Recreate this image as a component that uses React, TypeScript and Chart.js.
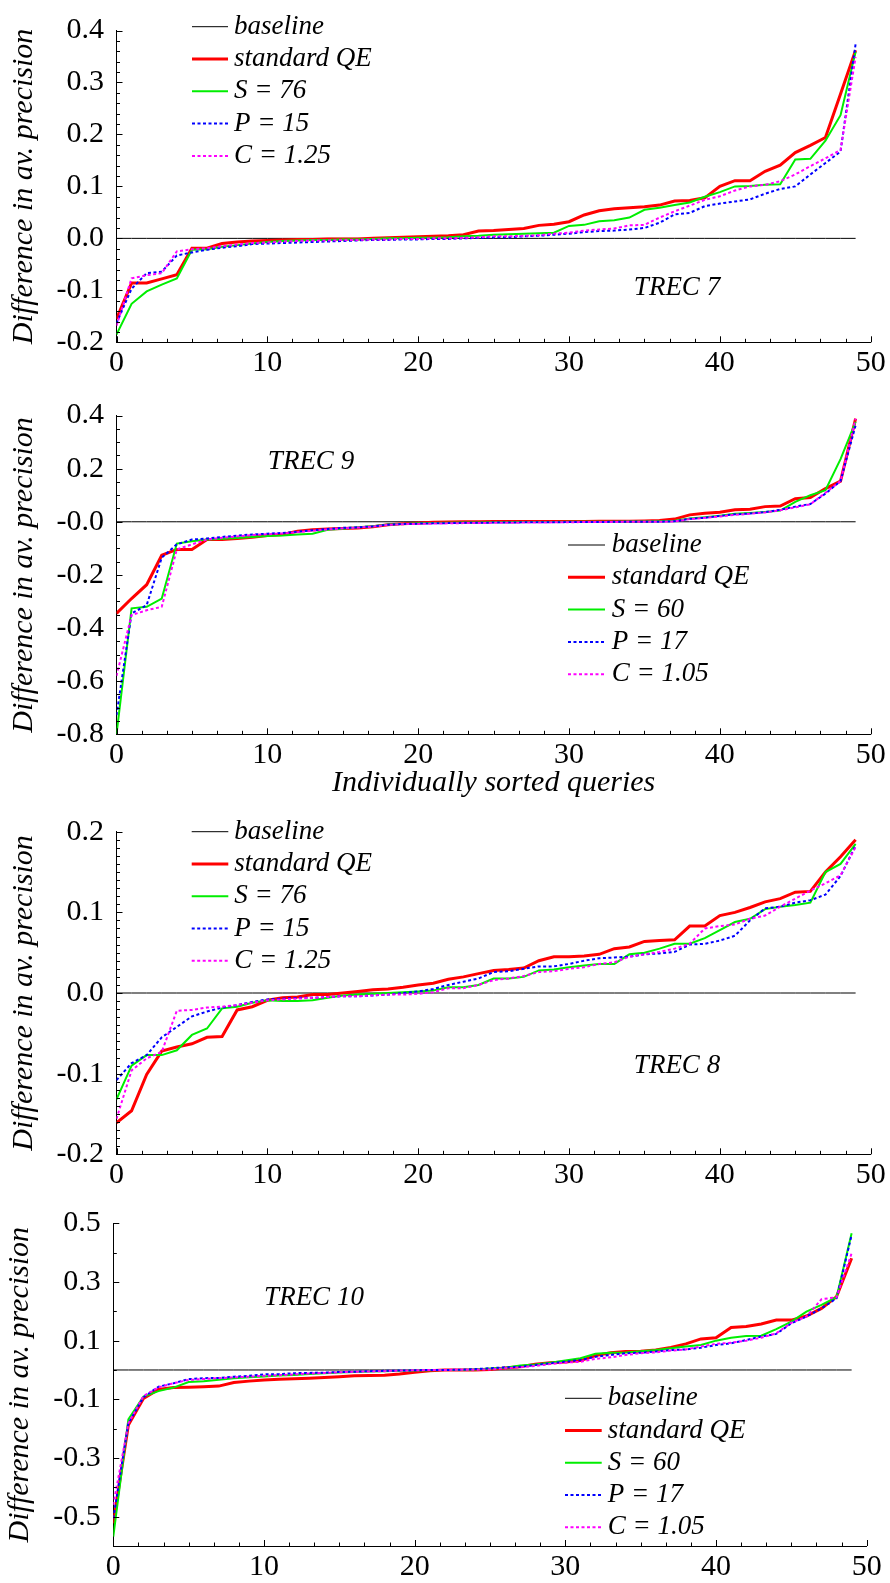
import React, { useEffect, useRef } from "react";
import { Chart, registerables } from "chart.js";

Chart.register(...registerables);

const FAMILY = "'Liberation Serif', 'Times New Roman', Times, serif";

// ---------- data ----------
const queryRanks = Array.from({ length: 50 }, (_, i) => i);
const baselineValues = new Array(50).fill(0);

const xTicks = [0, 10, 20, 30, 40, 50];

// TREC 7
const trec7Standard = [-0.155, -0.086, -0.086, -0.078, -0.07, -0.019, -0.019, -0.01, -0.007, -0.005, -0.004, -0.003, -0.002, -0.002, -0.001, -0.001, -0.001, 0.0, 0.001, 0.002, 0.003, 0.004, 0.005, 0.007, 0.014, 0.015, 0.017, 0.019, 0.025, 0.027, 0.032, 0.045, 0.053, 0.057, 0.059, 0.061, 0.064, 0.072, 0.073, 0.078, 0.1, 0.111, 0.111, 0.129, 0.141, 0.165, 0.179, 0.194, 0.278, 0.362];
const trec7S = [-0.185, -0.126, -0.102, -0.089, -0.077, -0.022, -0.021, -0.016, -0.013, -0.01, -0.007, -0.005, -0.004, -0.003, -0.003, -0.002, -0.002, -0.001, 0.0, 0.0, 0.001, 0.001, 0.002, 0.004, 0.005, 0.007, 0.008, 0.009, 0.01, 0.011, 0.024, 0.026, 0.033, 0.035, 0.04, 0.055, 0.059, 0.064, 0.069, 0.08, 0.089, 0.1, 0.101, 0.103, 0.104, 0.152, 0.153, 0.188, 0.237, 0.359];
const trec7P = [-0.163, -0.097, -0.067, -0.064, -0.033, -0.027, -0.022, -0.018, -0.015, -0.011, -0.01, -0.009, -0.008, -0.007, -0.006, -0.005, -0.004, -0.003, -0.003, -0.002, -0.002, -0.001, -0.001, 0.0, 0.001, 0.002, 0.002, 0.004, 0.005, 0.007, 0.009, 0.012, 0.014, 0.015, 0.017, 0.02, 0.03, 0.046, 0.049, 0.062, 0.067, 0.071, 0.075, 0.086, 0.095, 0.1, 0.123, 0.145, 0.167, 0.374];
const trec7C = [-0.168, -0.077, -0.071, -0.067, -0.025, -0.021, -0.019, -0.015, -0.012, -0.009, -0.008, -0.006, -0.005, -0.004, -0.004, -0.003, -0.003, -0.002, -0.002, -0.001, -0.001, 0.0, 0.0, 0.001, 0.002, 0.004, 0.004, 0.005, 0.006, 0.009, 0.011, 0.015, 0.017, 0.019, 0.025, 0.026, 0.04, 0.052, 0.063, 0.074, 0.081, 0.092, 0.1, 0.103, 0.11, 0.123, 0.139, 0.154, 0.17, 0.349];

// TREC 9
const trec9Standard = [-0.345, -0.289, -0.237, -0.126, -0.104, -0.104, -0.067, -0.067, -0.063, -0.058, -0.052, -0.048, -0.036, -0.03, -0.027, -0.025, -0.023, -0.019, -0.011, -0.007, -0.005, -0.002, -0.001, 0.0, 0.0, 0.001, 0.001, 0.001, 0.001, 0.001, 0.001, 0.001, 0.002, 0.002, 0.002, 0.003, 0.005, 0.01, 0.026, 0.032, 0.036, 0.045, 0.047, 0.057, 0.059, 0.087, 0.091, 0.125, 0.153, 0.388];
const trec9S = [-0.8, -0.326, -0.32, -0.289, -0.082, -0.073, -0.067, -0.064, -0.061, -0.057, -0.054, -0.052, -0.048, -0.045, -0.03, -0.026, -0.021, -0.017, -0.01, -0.008, -0.006, -0.005, -0.004, -0.003, -0.003, -0.002, -0.002, -0.001, -0.001, -0.001, 0.0, 0.0, 0.0, 0.0, 0.001, 0.001, 0.002, 0.004, 0.012, 0.017, 0.023, 0.03, 0.033, 0.037, 0.042, 0.075, 0.1, 0.119, 0.236, 0.376];
const trec9P = [-0.728, -0.345, -0.314, -0.135, -0.085, -0.067, -0.063, -0.057, -0.052, -0.048, -0.045, -0.042, -0.037, -0.032, -0.027, -0.023, -0.021, -0.017, -0.011, -0.008, -0.007, -0.006, -0.005, -0.004, -0.004, -0.003, -0.003, -0.002, -0.002, -0.002, -0.001, -0.001, -0.001, 0.0, 0.0, 0.0, 0.0, 0.002, 0.011, 0.015, 0.022, 0.028, 0.031, 0.036, 0.045, 0.057, 0.067, 0.106, 0.153, 0.363];
const trec9C = [-0.58, -0.351, -0.333, -0.32, -0.104, -0.085, -0.067, -0.06, -0.055, -0.05, -0.047, -0.044, -0.039, -0.034, -0.029, -0.025, -0.022, -0.018, -0.012, -0.009, -0.008, -0.007, -0.006, -0.005, -0.005, -0.004, -0.004, -0.003, -0.003, -0.002, -0.002, -0.001, -0.001, -0.001, 0.0, 0.0, 0.0, 0.001, 0.01, 0.015, 0.02, 0.026, 0.03, 0.035, 0.043, 0.054, 0.066, 0.109, 0.153, 0.388];

// TREC 8
const trec8Standard = [-0.161, -0.146, -0.101, -0.072, -0.067, -0.063, -0.055, -0.054, -0.021, -0.017, -0.009, -0.006, -0.005, -0.002, -0.002, 0.0, 0.002, 0.004, 0.005, 0.007, 0.01, 0.012, 0.017, 0.02, 0.024, 0.028, 0.029, 0.031, 0.04, 0.045, 0.045, 0.046, 0.048, 0.055, 0.057, 0.064, 0.065, 0.066, 0.083, 0.083, 0.096, 0.1, 0.106, 0.113, 0.117, 0.125, 0.126, 0.15, 0.169, 0.19];
const trec8S = [-0.132, -0.09, -0.077, -0.077, -0.071, -0.052, -0.044, -0.019, -0.017, -0.012, -0.009, -0.01, -0.01, -0.009, -0.006, -0.003, -0.002, -0.001, 0.0, 0.001, 0.002, 0.003, 0.007, 0.007, 0.01, 0.018, 0.018, 0.02, 0.028, 0.029, 0.032, 0.034, 0.036, 0.036, 0.048, 0.05, 0.055, 0.061, 0.061, 0.068, 0.078, 0.088, 0.092, 0.104, 0.107, 0.109, 0.112, 0.15, 0.16, 0.185];
const trec8P = [-0.108, -0.087, -0.077, -0.055, -0.042, -0.029, -0.023, -0.018, -0.015, -0.011, -0.008, -0.007, -0.006, -0.006, -0.005, -0.004, -0.004, -0.003, -0.002, 0.0, 0.002, 0.005, 0.01, 0.014, 0.018, 0.026, 0.027, 0.03, 0.033, 0.033, 0.036, 0.04, 0.043, 0.044, 0.045, 0.048, 0.049, 0.051, 0.06, 0.061, 0.065, 0.071, 0.09, 0.105, 0.107, 0.112, 0.115, 0.122, 0.145, 0.183];
const trec8C = [-0.156, -0.096, -0.081, -0.073, -0.022, -0.021, -0.018, -0.017, -0.015, -0.012, -0.009, -0.008, -0.007, -0.006, -0.005, -0.004, -0.004, -0.003, -0.002, -0.002, -0.001, 0.001, 0.006, 0.006, 0.01, 0.016, 0.018, 0.021, 0.026, 0.027, 0.03, 0.032, 0.036, 0.038, 0.045, 0.048, 0.051, 0.055, 0.061, 0.08, 0.083, 0.085, 0.092, 0.096, 0.107, 0.117, 0.127, 0.136, 0.146, 0.181];

// TREC 10
const trec10Standard = [-0.523, -0.188, -0.097, -0.066, -0.06, -0.059, -0.057, -0.055, -0.043, -0.038, -0.034, -0.032, -0.03, -0.028, -0.026, -0.023, -0.02, -0.019, -0.018, -0.014, -0.008, -0.003, 0.0, 0.0, 0.0, 0.002, 0.007, 0.011, 0.02, 0.025, 0.027, 0.032, 0.049, 0.059, 0.063, 0.064, 0.068, 0.077, 0.089, 0.106, 0.11, 0.145, 0.148, 0.157, 0.17, 0.17, 0.184, 0.21, 0.25, 0.381];
const trec10S = [-0.568, -0.168, -0.091, -0.072, -0.06, -0.041, -0.038, -0.033, -0.028, -0.025, -0.022, -0.019, -0.017, -0.014, -0.011, -0.009, -0.007, -0.005, -0.004, -0.003, -0.002, -0.001, 0.0, 0.0, 0.002, 0.005, 0.008, 0.015, 0.019, 0.025, 0.032, 0.04, 0.055, 0.059, 0.06, 0.064, 0.068, 0.074, 0.08, 0.085, 0.1, 0.11, 0.116, 0.117, 0.139, 0.165, 0.199, 0.222, 0.248, 0.466];
const trec10P = [-0.506, -0.182, -0.093, -0.057, -0.045, -0.031, -0.028, -0.027, -0.023, -0.02, -0.015, -0.014, -0.011, -0.01, -0.009, -0.007, -0.006, -0.004, -0.003, -0.002, -0.001, 0.0, 0.0, 0.001, 0.003, 0.006, 0.009, 0.011, 0.017, 0.023, 0.028, 0.034, 0.045, 0.051, 0.057, 0.059, 0.063, 0.068, 0.07, 0.076, 0.085, 0.091, 0.102, 0.114, 0.123, 0.159, 0.182, 0.21, 0.244, 0.46];
const trec10C = [-0.46, -0.182, -0.089, -0.059, -0.045, -0.034, -0.031, -0.028, -0.025, -0.023, -0.02, -0.018, -0.015, -0.012, -0.01, -0.008, -0.006, -0.005, -0.004, -0.002, -0.001, 0.0, 0.0, 0.001, 0.001, 0.002, 0.006, 0.009, 0.014, 0.02, 0.025, 0.028, 0.038, 0.043, 0.051, 0.057, 0.06, 0.066, 0.07, 0.08, 0.089, 0.093, 0.1, 0.11, 0.125, 0.161, 0.182, 0.241, 0.248, 0.398];

// legend labels
const labelsA = ["baseline", "standard QE", "S = 76", "P = 15", "C = 1.25"];
const labelsB = ["baseline", "standard QE", "S = 60", "P = 17", "C = 1.05"];

// y tick values and labels (ascending)
const yTicks7 = [-0.2, -0.1, 0, 0.1, 0.2, 0.3, 0.4];
const yLabels7 = ["-0.2", "-0.1", "0.0", "0.1", "0.2", "0.3", "0.4"];
const yTicks9 = [-0.8, -0.6, -0.4, -0.2, 0, 0.2, 0.4];
const yLabels9 = ["-0.8", "-0.6", "-0.4", "-0.2", "-0.0", "0.2", "0.4"];
const yTicks8 = [-0.2, -0.1, 0, 0.1, 0.2];
const yLabels8 = ["-0.2", "-0.1", "0.0", "0.1", "0.2"];
const yTicks10 = [-0.5, -0.3, -0.1, 0.1, 0.3, 0.5];
const yLabels10 = ["-0.5", "-0.3", "-0.1", "0.1", "0.3", "0.5"];

// ---------- styles ----------
const seriesStyles = [
  { color: "#000000", width: 1, dash: [] as number[], order: 5 },
  { color: "#ff0000", width: 3, dash: [] as number[], order: 4 },
  { color: "#00ee00", width: 2, dash: [] as number[], order: 3 },
  { color: "#0000ff", width: 2, dash: [3, 2.5], order: 2 },
  { color: "#ff00ff", width: 2, dash: [3, 2.5], order: 1 },
];

const decorPlugin = {
  id: "decor",
  afterDraw(chart: any, _args: any, opts: any) {
    const ctx = chart.ctx;
    const ca = chart.chartArea;
    const xs = chart.scales.x;
    const ys = chart.scales.y;
    ctx.save();
    ctx.strokeStyle = "#000";
    ctx.lineWidth = 1;
    ctx.setLineDash([]);
    // inward x ticks
    const nx = Math.round((xs.max - xs.min) / opts.xMinor);
    for (let k = 0; k <= nx; k++) {
      const v = xs.min + k * opts.xMinor;
      const major = xTicks.some((m) => Math.abs(m - v) < 1e-6);
      const px = Math.round(xs.getPixelForValue(v)) + 0.5;
      ctx.beginPath();
      ctx.moveTo(px, ca.bottom);
      ctx.lineTo(px, ca.bottom - (major ? 6 : 3.5));
      ctx.stroke();
    }
    // inward y ticks
    const ny = Math.round((ys.max - ys.min) / opts.yMinor);
    for (let k = 0; k <= ny; k++) {
      const v = ys.min + k * opts.yMinor;
      const major = opts.yMajor.some((m: number) => Math.abs(m - v) < 1e-6);
      const py = Math.round(ys.getPixelForValue(v)) + 0.5;
      ctx.beginPath();
      ctx.moveTo(ca.left, py);
      ctx.lineTo(ca.left + (major ? 6 : 3.5), py);
      ctx.stroke();
    }
    // panel title
    ctx.fillStyle = "#000";
    ctx.font = `italic 27px ${FAMILY}`;
    ctx.textAlign = "center";
    ctx.textBaseline = "middle";
    ctx.fillText(opts.title.text, opts.title.x, opts.title.y);
    // legend
    const lg = opts.legend;
    ctx.textAlign = "left";
    chart.data.datasets.forEach((ds: any, i: number) => {
      const y = lg.y0 + i * lg.dy;
      ctx.save();
      ctx.strokeStyle = ds.borderColor;
      ctx.lineWidth = ds.borderWidth;
      ctx.setLineDash(ds.borderDash || []);
      ctx.beginPath();
      ctx.moveTo(lg.sampleX, y);
      ctx.lineTo(lg.sampleX + lg.sampleLen, y);
      ctx.stroke();
      ctx.restore();
      ctx.fillText(ds.label, lg.textX, y);
    });
    ctx.restore();
  },
};

type PanelCfg = {
  top: number;
  height: number;
  padTop: number;
  padRight: number;
  yAxisW: number;
  xAxisH: number;
  yMin: number;
  yMax: number;
  yTicks: number[];
  yLabels: string[];
  yMinor: number;
  yTitlePad: number;
  xTitle: string | null;
  series: number[][];
  labels: string[];
  title: { text: string; x: number; y: number };
  legend: { sampleX: number; sampleLen: number; textX: number; y0: number; dy: number };
};

const panels: PanelCfg[] = [
  {
    top: 0, height: 385, padTop: 19.3, padRight: 19.3, yAxisW: 116.5, xAxisH: 42.7,
    yMin: -0.2, yMax: 0.4, yTicks: yTicks7, yLabels: yLabels7, yMinor: 0.02, yTitlePad: 6,
    xTitle: null,
    series: [baselineValues, trec7Standard, trec7S, trec7P, trec7C], labels: labelsA,
    title: { text: "TREC 7", x: 677, y: 288 },
    legend: { sampleX: 192, sampleLen: 36, textX: 234, y0: 26.7, dy: 32.3 },
  },
  {
    top: 385, height: 416, padTop: 25.7, padRight: 19.3, yAxisW: 116.5, xAxisH: 66.7,
    yMin: -0.8, yMax: 0.4, yTicks: yTicks9, yLabels: yLabels9, yMinor: 0.05, yTitlePad: 6,
    xTitle: "Individually sorted queries",
    series: [baselineValues, trec9Standard, trec9S, trec9P, trec9C], labels: labelsB,
    title: { text: "TREC 9", x: 311, y: 77 },
    legend: { sampleX: 568, sampleLen: 37, textX: 611.7, y0: 160, dy: 32.3 },
  },
  {
    top: 801, height: 390, padTop: 30.7, padRight: 19.3, yAxisW: 116.5, xAxisH: 36.7,
    yMin: -0.2, yMax: 0.2, yTicks: yTicks8, yLabels: yLabels8, yMinor: 0.01, yTitlePad: 6,
    xTitle: null,
    series: [baselineValues, trec8Standard, trec8S, trec8P, trec8C], labels: labelsA,
    title: { text: "TREC 8", x: 677, y: 265 },
    legend: { sampleX: 191.7, sampleLen: 36.6, textX: 234.3, y0: 30.7, dy: 32.25 },
  },
  {
    top: 1191, height: 392, padTop: 32.3, padRight: 23.3, yAxisW: 113.3, xAxisH: 37,
    yMin: -0.6, yMax: 0.5, yTicks: yTicks10, yLabels: yLabels10, yMinor: 0.1, yTitlePad: 2,
    xTitle: null,
    series: [baselineValues, trec10Standard, trec10S, trec10P, trec10C], labels: labelsB,
    title: { text: "TREC 10", x: 314, y: 107.3 },
    legend: { sampleX: 565, sampleLen: 36.7, textX: 607.7, y0: 207.3, dy: 32.25 },
  },
];

function buildConfig(cfg: PanelCfg): any {
  const datasets = cfg.series.map((vals, si) => ({
    label: cfg.labels[si],
    data: vals.map((v, i) => ({ x: queryRanks[i], y: v })),
    borderColor: seriesStyles[si].color,
    backgroundColor: seriesStyles[si].color,
    borderWidth: seriesStyles[si].width,
    borderDash: seriesStyles[si].dash,
    order: seriesStyles[si].order,
    pointRadius: 0,
    tension: 0,
    fill: false,
  }));
  const tickFont = { family: FAMILY, size: 30 };
  return {
    type: "line",
    data: { datasets },
    plugins: [decorPlugin],
    options: {
      animation: false,
      responsive: false,
      maintainAspectRatio: false,
      layout: { padding: { left: 0, top: cfg.padTop, right: cfg.padRight, bottom: 0 } },
      plugins: {
        legend: { display: false },
        tooltip: { enabled: false },
        decor: {
          xMinor: 10 / 6,
          yMinor: cfg.yMinor,
          yMajor: cfg.yTicks,
          title: cfg.title,
          legend: cfg.legend,
        },
      },
      scales: {
        x: {
          type: "linear",
          min: 0,
          max: 50,
          grid: { display: false, drawTicks: false, tickLength: 0 },
          border: { display: true, color: "#000", width: 1 },
          afterBuildTicks: (s: any) => {
            s.ticks = xTicks.map((v) => ({ value: v }));
          },
          afterFit: (s: any) => {
            s.height = cfg.xAxisH;
          },
          ticks: {
            autoSkip: false,
            maxRotation: 0,
            padding: 3,
            color: "#000",
            font: tickFont,
            callback: (v: any) => String(v),
          },
          title: cfg.xTitle
            ? {
                display: true,
                text: cfg.xTitle,
                color: "#000",
                font: { family: FAMILY, size: 30, style: "italic" },
                padding: { top: 0, bottom: 0 },
              }
            : { display: false },
        },
        y: {
          type: "linear",
          min: cfg.yMin,
          max: cfg.yMax,
          grid: { display: false, drawTicks: false, tickLength: 0 },
          border: { display: true, color: "#000", width: 1 },
          afterBuildTicks: (s: any) => {
            s.ticks = cfg.yTicks.map((v) => ({ value: v }));
          },
          afterFit: (s: any) => {
            s.width = cfg.yAxisW;
          },
          ticks: {
            autoSkip: false,
            padding: 12.5,
            color: "#000",
            font: tickFont,
            callback: (_v: any, i: number) => cfg.yLabels[i],
          },
          title: {
            display: true,
            text: "Difference in av. precision",
            color: "#000",
            font: { family: FAMILY, size: 30, style: "italic" },
            padding: { top: cfg.yTitlePad, bottom: 0 },
          },
        },
      },
    },
  };
}

function Panel({ cfg }: { cfg: PanelCfg }) {
  const ref = useRef<HTMLCanvasElement | null>(null);
  useEffect(() => {
    if (!ref.current) return;
    const chart = new Chart(ref.current, buildConfig(cfg));
    return () => chart.destroy();
  }, [cfg]);
  return (
    <canvas
      ref={ref}
      width={890}
      height={cfg.height}
      style={{ position: "absolute", left: 0, top: cfg.top, width: 890, height: cfg.height, display: "block" }}
    />
  );
}

export default function App() {
  return (
    <div style={{ position: "absolute", left: 0, top: 0, width: 890, height: 1583, background: "#fff", overflow: "hidden" }}>
      {panels.map((p, i) => (
        <Panel key={i} cfg={p} />
      ))}
    </div>
  );
}
